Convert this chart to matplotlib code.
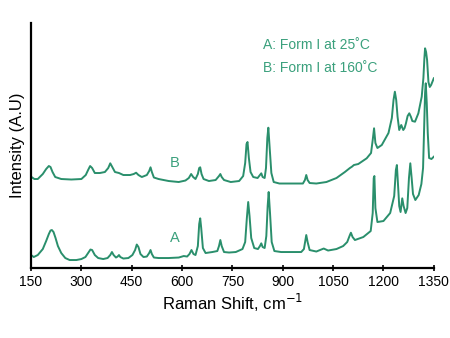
import numpy as np
import matplotlib.pyplot as plt

plt.rcParams['font.family'] = ['Liberation Sans', 'DejaVu Sans']

green = '#2a8f6c'
text_green = '#3aa07c'

# spectrum A (Form I at 25 C): wavenumber / intensity
a_wn = [150, 158, 170, 185, 195, 203, 208, 212, 217, 223, 230, 240, 252, 265, 285, 300,
        312, 320, 327, 332, 340, 350, 365, 378, 386, 391, 396, 403, 408, 412, 416, 425,
        440, 452, 460, 465, 470, 476, 485, 495, 502, 506, 510, 516, 530, 560, 590, 605,
        615, 622, 628, 634, 640, 647, 651, 654, 657, 662, 670, 690, 705, 710, 714, 718,
        725, 740, 760, 780, 788, 793, 797, 801, 806, 815, 826, 832, 836, 840, 846, 851,
        855, 858, 862, 867, 875, 895, 930, 955, 963, 967, 970, 974, 980, 1000, 1015, 1022,
        1035, 1060, 1080, 1092, 1100, 1103, 1108, 1115, 1140, 1162, 1168, 1171, 1173, 1176,
        1182, 1200, 1220, 1232, 1237, 1240, 1243, 1247, 1251, 1256, 1260, 1266, 1271, 1276,
        1280, 1284, 1288, 1295, 1305, 1313, 1318, 1321, 1324, 1326, 1329, 1332, 1336, 1343,
        1350]
a_int = [13, 11, 13, 19, 27, 34, 37.5, 38, 36, 30, 22, 15, 10, 8, 8, 9,
         11, 15, 18.5, 18, 13, 10, 9, 10, 13, 16, 13, 10.5, 11.5, 13, 11, 9.5,
         10, 13, 18, 23.5, 21, 14, 11, 11.5, 15, 18, 14, 10.5, 10, 10, 10.5, 12,
         11.5, 14, 18, 14, 13, 22, 44, 49.7, 40, 20, 15, 16, 17, 22, 28, 22,
         16, 15.5, 16, 19, 26, 50, 66, 52, 30, 20, 19, 22, 24.7, 21, 20, 32,
         62, 76, 55, 26, 17, 16, 16, 16, 19, 27, 33, 26, 18, 16.5, 18.5, 19.5,
         17.5, 19, 22, 26, 33, 35.3, 31, 28, 31, 37, 55, 90, 92, 60,
         46, 47, 55, 72, 98, 103, 85, 62, 56, 69.7, 62, 55, 60, 90,
         104.7, 90, 74, 68, 73, 84, 100, 138, 175, 184.7, 165, 135, 110, 109,
         111.3]

# spectrum B (Form I at 160 C)
b_wn = [150, 160, 170, 185, 195, 203, 208, 214, 222, 240, 270, 300, 313, 320, 326, 332,
        340, 355, 370, 380, 386, 392, 400, 412, 425, 445, 456, 463, 470, 480, 495, 502,
        506, 510, 516, 530, 560, 590, 610, 620, 627, 633, 640, 647, 651, 654, 658, 664,
        680, 700, 710, 714, 718, 725, 745, 770, 782, 788, 792, 795, 799, 804, 812, 825,
        832, 836, 840, 846, 850, 854, 857, 861, 866, 873, 890, 930, 960, 966, 970, 974,
        980, 1000, 1030, 1060, 1085, 1100, 1106, 1112, 1125, 1150, 1163, 1168, 1172, 1176,
        1182, 1195, 1215, 1225, 1230, 1234, 1238, 1242, 1247, 1253, 1259, 1263, 1267, 1272,
        1277, 1282, 1286, 1294, 1304, 1314, 1319, 1322, 1324, 1327, 1330, 1334, 1338, 1342,
        1350]
b_int = [91.3, 89, 89, 94, 99, 102, 101, 96, 91, 89, 88.5, 89, 93, 98, 102, 100,
         95, 95, 96, 100, 104.7, 101, 96, 95, 93, 93, 94, 95.3, 93, 91, 93, 97,
         100.7, 96, 90.5, 89, 87, 86, 87.5, 90, 94, 91, 89, 94, 100, 100.7, 94, 89,
         87, 88, 92, 94, 91, 88, 86, 87, 92, 105, 124, 126, 110, 96, 91, 90,
         93, 94.7, 91, 90, 100, 130, 140.3, 120, 95, 86, 84.5, 84.5, 84.5, 88, 93, 88,
         85, 84.5, 86, 90, 96, 100, 101.3, 103, 104, 109.7, 115, 128, 139.7, 125,
         120, 123, 135, 150, 168, 176.3, 168, 151.3, 138, 143, 138, 140, 144.7, 152,
         154.7, 151, 147, 146.3, 154.7, 171.3, 190, 210, 219.7, 216, 208, 186, 181, 183,
         189.7]

xticks = [150, 300, 450, 600, 750, 900, 1050, 1200, 1350]

fig = plt.figure(figsize=(4.5, 3.38), dpi=100)
ax = fig.add_axes([0.069, 0.207, 0.895, 0.725])

ax.plot(a_wn, a_int, color=green, lw=1.4)
ax.plot(b_wn, b_int, color=green, lw=1.4)

ax.text(579, 30, 'A', color=text_green, fontsize=10.5, ha='center', va='center')
ax.text(579, 105, 'B', color=text_green, fontsize=10.5, ha='center', va='center')
ax.text(841, 223, 'A: Form I at 25˚C', color=text_green, fontsize=10, va='center')
ax.text(841, 200, 'B: Form I at 160˚C', color=text_green, fontsize=10, va='center')

ax.set_xlim(150, 1350)
ax.set_ylim(0, 245)
ax.set_xticks(xticks)
ax.set_yticks([])
ax.tick_params(axis='x', direction='inout', length=4, width=1.2, labelsize=10, pad=3)
for s in ['top', 'right']:
    ax.spines[s].set_visible(False)
ax.spines['left'].set_linewidth(1.6)
ax.spines['bottom'].set_linewidth(1.6)
ax.spines['bottom'].set_bounds(150, 1350)

ax.set_xlabel('Raman Shift, cm$^{-1}$', fontsize=12, labelpad=2)
ax.set_ylabel('Intensity (A.U)', fontsize=12, labelpad=4)

fig.savefig('out.png', dpi=100)
